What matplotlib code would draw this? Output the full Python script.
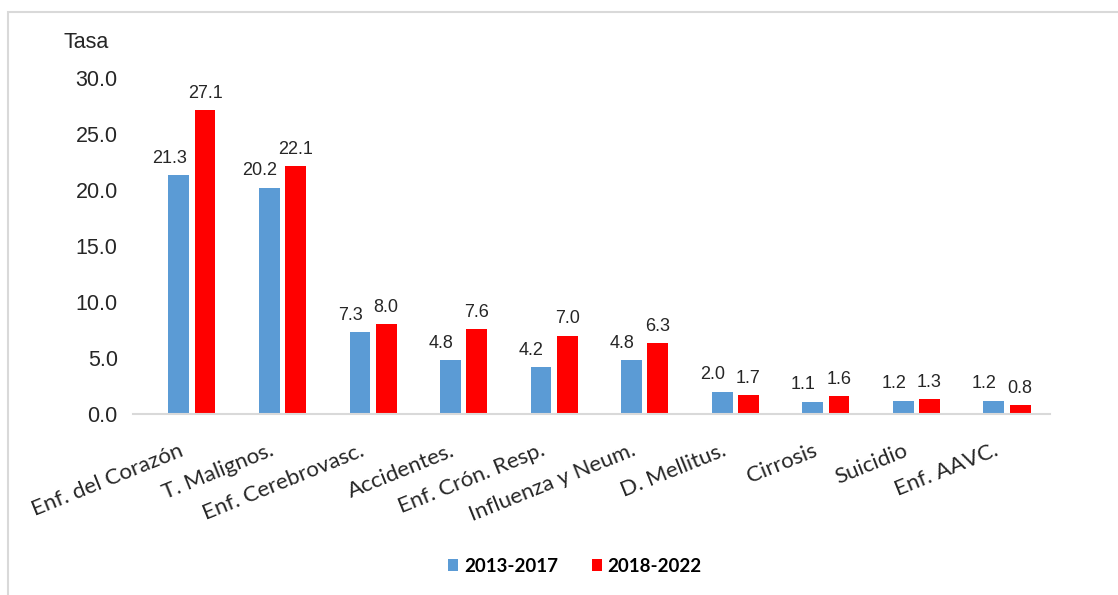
import matplotlib.pyplot as plt
import numpy as np
from matplotlib.patches import Rectangle

categorias = ["Enf. del Corazón", "T. Malignos.", "Enf. Cerebrovasc.", "Accidentes.",
              "Enf. Crón. Resp.", "Influenza y Neum.", "D. Mellitus.", "Cirrosis",
              "Suicidio", "Enf. AAVC."]
tasa_2013_2017 = [21.3, 20.2, 7.3, 4.8, 4.2, 4.8, 2.0, 1.1, 1.2, 1.2]
tasa_2018_2022 = [27.1, 22.1, 8.0, 7.6, 7.0, 6.3, 1.7, 1.6, 1.3, 0.8]
periodos = ["2013-2017", "2018-2022"]
yticks = [0, 5, 10, 15, 20, 25, 30]

AZUL = "#5B9BD5"
ROJO = "#FF0000"
TEXTO = "#262626"

plt.rcParams["font.family"] = ["Liberation Sans", "DejaVu Sans"]

fig = plt.figure(figsize=(11.18, 5.95), dpi=100)
# light frame of the chart area (cropped on the right and bottom)
fig.patches.append(Rectangle((8 / 1118, -0.05), 1.2, 1 - 12 / 595 + 0.05,
                             transform=fig.transFigure, fill=False,
                             edgecolor="#d9d9d9", linewidth=1.5))

ax = fig.add_axes([133 / 1118, 1 - 414 / 595, 917 / 1118, 336 / 595])

x = np.arange(len(categorias))
w = 0.23
off = 0.145
b1 = ax.bar(x - off, tasa_2013_2017, width=w, color=AZUL, label=periodos[0])
b2 = ax.bar(x + off, tasa_2018_2022, width=w, color=ROJO, label=periodos[1])

for rect, v in zip(b1, tasa_2013_2017):
    ax.annotate(f"{v:.1f}", (rect.get_x() + rect.get_width() / 2, v),
                xytext=(-7, 6), textcoords="offset points", ha="center", va="bottom",
                fontsize=13, color=TEXTO)
for rect, v in zip(b2, tasa_2018_2022):
    ax.annotate(f"{v:.1f}", (rect.get_x() + rect.get_width() / 2, v),
                xytext=(0, 6), textcoords="offset points", ha="center", va="bottom",
                fontsize=13, color=TEXTO)

ax.set_xlim(-0.651, 9.475)
ax.set_ylim(0, 30)
ax.set_yticks(yticks)
ax.set_yticklabels([f"{t:.1f}" for t in yticks], fontsize=15.5, color=TEXTO)
ax.tick_params(axis="y", length=0, pad=11)
ax.tick_params(axis="x", length=0, pad=19)
ax.set_xticks(x - 0.15)
ax.set_xticklabels(categorias, rotation=22, ha="right", rotation_mode="anchor",
                   fontsize=16, family=["Lato", "DejaVu Sans"], color=TEXTO)
for s in ["top", "right", "left"]:
    ax.spines[s].set_visible(False)
ax.spines["bottom"].set_color("#d9d9d9")
ax.spines["bottom"].set_linewidth(1.5)

fig.text(63 / 1118, 1 - 43 / 595, "Tasa", fontsize=15.5, va="center", ha="left", color=TEXTO)

fig.legend(loc="center", bbox_to_anchor=(575 / 1118, 1 - 566 / 595), ncol=2,
           frameon=False, handlelength=0.55, handleheight=0.55, handletextpad=0.3,
           columnspacing=1.8, prop={"family": ["Lato", "DejaVu Sans"],
                                    "weight": "bold", "size": 13.5})

fig.savefig("out.png", dpi=100)
